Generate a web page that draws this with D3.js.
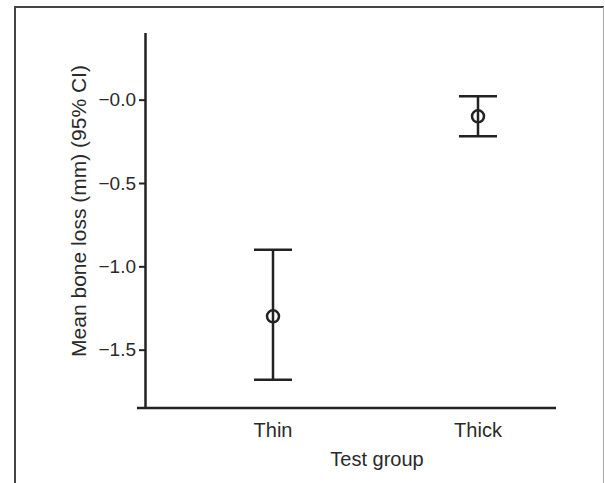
<!DOCTYPE html>
<html lang="en">
<head>
<meta charset="UTF-8">
<title>Mean bone loss by test group</title>
<style>
  body { margin: 0; background: #fff; }
  text { font-family: "Liberation Sans", Arial, sans-serif; fill: #2a2a2a; }
</style>
</head>
<body>
<div id="chart"></div>
<script src="https://d3js.org/d3.v7.min.js"></script>
<script>
  // data
  const groups = ["Thin", "Thick"];
  const means = [-1.30, -0.10];
  const lower = [-1.68, -0.22];
  const upper = [-0.90, 0.02];
  const yTicks = [0, -0.5, -1.0, -1.5];
  const yTickLabels = ["\u22120.0", "\u22120.5", "\u22121.0", "\u22121.5"];

  const W = 605, H = 483;
  const axisLeft = 145, axisBottom = 408, axisTop = 33;

  const svg = d3.select("#chart").append("svg")
    .attr("width", W)
    .attr("height", H);

  // frame round the figure
  svg.append("line").attr("x1", 14).attr("x2", 604).attr("y1", 7).attr("y2", 7)
    .attr("stroke", "#444").attr("stroke-width", 2);
  svg.append("line").attr("x1", 15).attr("x2", 15).attr("y1", 6).attr("y2", H)
    .attr("stroke", "#444").attr("stroke-width", 2);
  svg.append("line").attr("x1", 603.5).attr("x2", 603.5).attr("y1", 7).attr("y2", H)
    .attr("stroke", "#aaa").attr("stroke-width", 1);

  const y = d3.scaleLinear().domain([-1.85, 0.4]).range([axisBottom, axisTop]);
  const x = d3.scalePoint().domain(groups).range([273, 478]);

  // y axis
  svg.append("g")
    .attr("transform", `translate(${axisLeft},0)`)
    .call(d3.axisLeft(y)
      .tickValues(yTicks)
      .tickFormat((d, i) => yTickLabels[i])
      .tickSize(6)
      .tickSizeOuter(0)
      .tickPadding(3))
    .call(g => g.select(".domain").attr("stroke", "#222").attr("stroke-width", 2.5)
      .attr("d", `M0.5,${axisTop}V${axisBottom}`))
    .call(g => g.selectAll(".tick line").attr("stroke", "#222").attr("stroke-width", 2))
    .call(g => g.selectAll(".tick text")
      .attr("fill", "#2a2a2a")
      .style("font-family", "\"Liberation Sans\", Arial, sans-serif")
      .style("font-size", "19px"));

  // x axis: baseline and category labels only
  svg.append("line")
    .attr("x1", 137).attr("x2", 556)
    .attr("y1", axisBottom).attr("y2", axisBottom)
    .attr("stroke", "#222").attr("stroke-width", 2.5);

  svg.selectAll(".xlab")
    .data(groups)
    .join("text")
    .attr("class", "xlab")
    .attr("x", d => x(d))
    .attr("y", 437)
    .attr("text-anchor", "middle")
    .style("font-size", "20px")
    .text(d => d);

  svg.append("text")
    .attr("x", 377)
    .attr("y", 466)
    .attr("text-anchor", "middle")
    .style("font-size", "20px")
    .text("Test group");

  svg.append("text")
    .attr("transform", `translate(79,${(60 + 362) / 2}) rotate(-90)`)
    .attr("text-anchor", "middle")
    .attr("dy", "0.35em")
    .style("font-size", "21px")
    .text("Mean bone loss (mm) (95% CI)");

  // error bars
  const bars = svg.selectAll(".bar")
    .data(groups)
    .join("g")
    .attr("class", "bar")
    .attr("stroke", "#222")
    .attr("stroke-width", 2.5);

  bars.append("line")
    .attr("x1", d => x(d)).attr("x2", d => x(d))
    .attr("y1", (d, i) => y(upper[i])).attr("y2", (d, i) => y(lower[i]));
  bars.append("line")
    .attr("x1", d => x(d) - 19).attr("x2", d => x(d) + 19)
    .attr("y1", (d, i) => y(upper[i])).attr("y2", (d, i) => y(upper[i]));
  bars.append("line")
    .attr("x1", d => x(d) - 19).attr("x2", d => x(d) + 19)
    .attr("y1", (d, i) => y(lower[i])).attr("y2", (d, i) => y(lower[i]));
  bars.append("circle")
    .attr("cx", d => x(d))
    .attr("cy", (d, i) => y(means[i]))
    .attr("r", 6)
    .attr("fill", "none");
</script>
</body>
</html>
